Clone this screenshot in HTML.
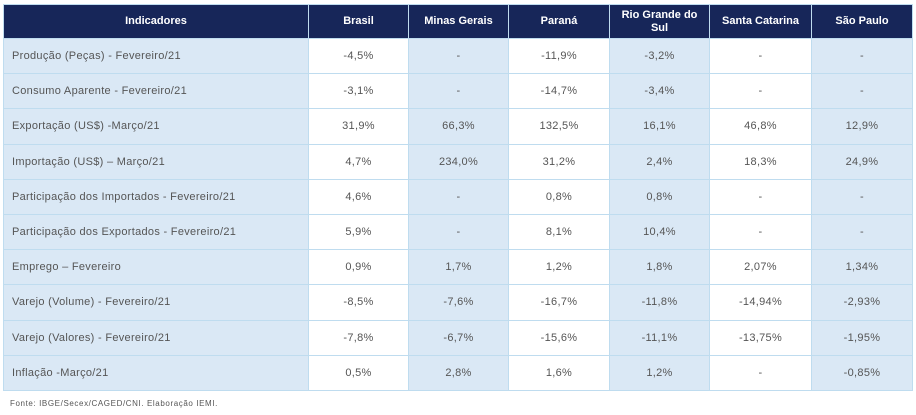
<!DOCTYPE html>
<html><head><meta charset="utf-8"><style>
body{margin:0;background:#fff;width:916px;height:415px;overflow:hidden;font-family:"Liberation Sans",sans-serif;}
table{position:absolute;left:3px;top:4px;border-collapse:collapse;table-layout:fixed;width:909px;}
td,th{border:1px solid #bfdcef;font-size:11px;color:#555;text-align:center;padding:0;height:34.2px;}
td{letter-spacing:0.3px;}
th{background:#172659;color:#fff;font-weight:bold;height:33px;font-size:11px;line-height:13px;border-color:#bfdcef;}
td:first-child{text-align:left;padding-left:8px;}
td:nth-child(odd){background:#dae8f5;}
td:nth-child(even){background:#fff;}
.f{position:absolute;left:10px;top:399px;font-size:8px;color:#555;letter-spacing:0.6px;}
</style></head><body>
<table>
<colgroup><col style="width:305px"><col style="width:100px"><col style="width:100px"><col style="width:101px"><col style="width:100px"><col style="width:102px"><col style="width:101px"></colgroup>
<tr><th>Indicadores</th><th>Brasil</th><th>Minas Gerais</th><th>Paraná</th><th>Rio Grande do<br>Sul</th><th>Santa Catarina</th><th>São Paulo</th></tr>
<tr><td>Produção (Peças) - Fevereiro/21</td><td>-4,5%</td><td>-</td><td>-11,9%</td><td>-3,2%</td><td>-</td><td>-</td></tr>
<tr><td>Consumo Aparente - Fevereiro/21</td><td>-3,1%</td><td>-</td><td>-14,7%</td><td>-3,4%</td><td>-</td><td>-</td></tr>
<tr><td>Exportação (US$) -Março/21</td><td>31,9%</td><td>66,3%</td><td>132,5%</td><td>16,1%</td><td>46,8%</td><td>12,9%</td></tr>
<tr><td>Importação (US$) – Março/21</td><td>4,7%</td><td>234,0%</td><td>31,2%</td><td>2,4%</td><td>18,3%</td><td>24,9%</td></tr>
<tr><td>Participação dos Importados - Fevereiro/21</td><td>4,6%</td><td>-</td><td>0,8%</td><td>0,8%</td><td>-</td><td>-</td></tr>
<tr><td>Participação dos Exportados - Fevereiro/21</td><td>5,9%</td><td>-</td><td>8,1%</td><td>10,4%</td><td>-</td><td>-</td></tr>
<tr><td>Emprego – Fevereiro</td><td>0,9%</td><td>1,7%</td><td>1,2%</td><td>1,8%</td><td>2,07%</td><td>1,34%</td></tr>
<tr><td>Varejo (Volume) - Fevereiro/21</td><td>-8,5%</td><td>-7,6%</td><td>-16,7%</td><td>-11,8%</td><td>-14,94%</td><td>-2,93%</td></tr>
<tr><td>Varejo (Valores) - Fevereiro/21</td><td>-7,8%</td><td>-6,7%</td><td>-15,6%</td><td>-11,1%</td><td>-13,75%</td><td>-1,95%</td></tr>
<tr><td>Inflação -Março/21</td><td>0,5%</td><td>2,8%</td><td>1,6%</td><td>1,2%</td><td>-</td><td>-0,85%</td></tr>
</table>
<div class="f">Fonte: IBGE/Secex/CAGED/CNI. Elaboração IEMI.</div>
</body></html>
